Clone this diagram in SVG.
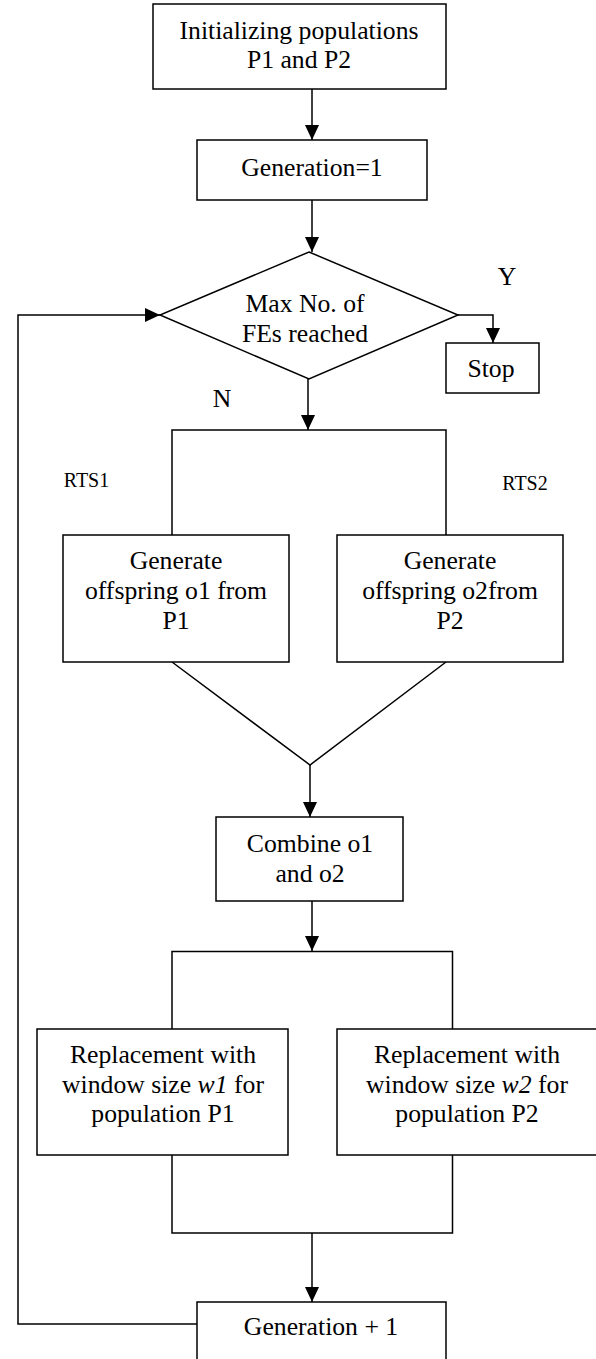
<svg xmlns="http://www.w3.org/2000/svg" width="596" height="1359" viewBox="0 0 596 1359">
<style>
.box{fill:#fff;stroke:#000;stroke-width:1.5}
.t{font-family:"Liberation Serif","Times New Roman",serif;font-size:25.7px;text-anchor:middle;fill:#000}
.s{font-family:"Liberation Serif","Times New Roman",serif;font-size:20px;text-anchor:middle;fill:#000}
.ln{fill:none;stroke:#000;stroke-width:1.5}
</style>
<defs>
<marker id="ah" markerUnits="userSpaceOnUse" markerWidth="15" markerHeight="14" refX="15" refY="7" orient="auto">
<path d="M0,0 L15,7 L0,14 z" fill="#000"/>
</marker>
</defs>
<rect width="596" height="1359" fill="#fff"/>
<g id="connectors">
<path class="ln" d="M312,89 V140" marker-end="url(#ah)"/>
<path class="ln" d="M312,200 V252" marker-end="url(#ah)"/>
<path class="ln" d="M458,315 H493 V343" marker-end="url(#ah)"/>
<path class="ln" d="M308,379 V430" marker-end="url(#ah)"/>
<path class="ln" d="M172,535 V430 H446 V535"/>
<path class="ln" d="M172,662 L310,765 L446,662"/>
<path class="ln" d="M310,765 V817" marker-end="url(#ah)"/>
<path class="ln" d="M312,901 V951" marker-end="url(#ah)"/>
<path class="ln" d="M172,1029 V951.5 H452.5 V1029"/>
<path class="ln" d="M172,1155 V1233 H452.5 V1155"/>
<path class="ln" d="M312,1233 V1302" marker-end="url(#ah)"/>
<path class="ln" d="M197,1324 H18 V315 H160" marker-end="url(#ah)"/>
</g>
<g id="init">
<rect class="box" x="153" y="4" width="293" height="85"/>
<text class="t" x="299" y="39">Initializing populations</text>
<text class="t" x="299" y="68">P1 and P2</text>
</g>
<g id="gen1">
<rect class="box" x="197" y="140" width="230" height="60"/>
<text class="t" x="312" y="176">Generation=1</text>
</g>
<g id="decision">
<polygon class="box" points="309,252 458,315 309,379 160,315"/>
<text class="t" x="305" y="312">Max No. of</text>
<text class="t" x="305" y="342">FEs reached</text>
</g>
<g id="stop">
<rect class="box" x="446" y="343" width="93" height="50"/>
<text class="t" x="491" y="377">Stop</text>
</g>
<g id="labels">
<text class="t" x="507" y="285">Y</text>
<text class="t" x="222" y="407">N</text>
<text class="s" x="86.5" y="487">RTS1</text>
<text class="s" x="525" y="490">RTS2</text>
</g>
<g id="genA">
<rect class="box" x="63" y="535" width="226" height="127"/>
<text class="t" x="176" y="569">Generate</text>
<text class="t" x="176" y="599">offspring o1 from</text>
<text class="t" x="176" y="629">P1</text>
</g>
<g id="genB">
<rect class="box" x="337" y="535" width="226" height="127"/>
<text class="t" x="450" y="569">Generate</text>
<text class="t" x="450" y="599">offspring o2from</text>
<text class="t" x="450" y="629">P2</text>
</g>
<g id="combine">
<rect class="box" x="216" y="817" width="187" height="84"/>
<text class="t" x="310" y="852">Combine o1</text>
<text class="t" x="310" y="882">and o2</text>
</g>
<g id="repA">
<rect class="box" x="37" y="1029" width="251" height="126"/>
<text class="t" x="163" y="1063">Replacement with</text>
<text class="t" x="163" y="1093">window size <tspan font-style="italic">w1</tspan> for</text>
<text class="t" x="163" y="1122">population P1</text>
</g>
<g id="repB">
<rect class="box" x="337" y="1029" width="261" height="126"/>
<text class="t" x="467" y="1063">Replacement with</text>
<text class="t" x="467" y="1093">window size <tspan font-style="italic">w2</tspan> for</text>
<text class="t" x="467" y="1122">population P2</text>
</g>
<g id="genNext">
<rect class="box" x="197" y="1302" width="249" height="60"/>
<text class="t" x="321" y="1335">Generation + 1</text>
</g>
</svg>
